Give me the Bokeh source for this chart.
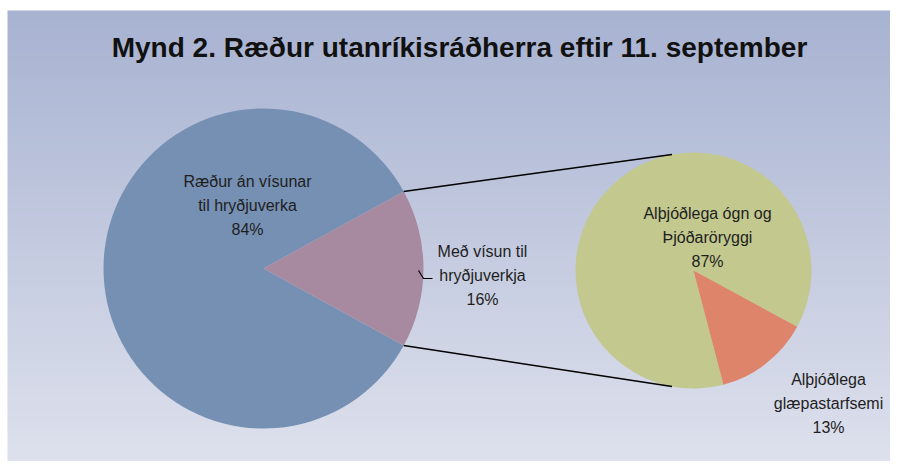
import numpy as np
from bokeh.plotting import figure
from bokeh.models import Range1d
from bokeh.core.properties import value
from bokeh.embed import file_html
from bokeh.resources import INLINE

# ---- data ----
title_text = "Mynd 2. Ræður utanríkisráðherra eftir 11. september"
main_labels = ["Ræður án vísunar\ntil hryðjuverka", "Með vísun til\nhryðjuverkja"]
main_values = [84, 16]
sub_labels = ["Alþjóðlega ógn og\nÞjóðaröryggi", "Alþjóðlega\nglæpastarfsemi"]
sub_values = [87, 13]
main_colors = ["#7690b4", "#a88aa0"]
sub_colors = ["#c2c88e", "#de846a"]

W, H = 890, 461
FONT = "Liberation Sans"

p = figure(width=W, height=H, x_range=Range1d(0, W), y_range=Range1d(0, H),
           output_backend="svg", toolbar_location=None, min_border=0,
           x_axis_type=None, y_axis_type=None, outline_line_color=None,
           background_fill_color="white", border_fill_color="white")
p.grid.visible = False

def sy(py):  # screen y -> data y
    return H - py

# background gradient
N = 256
top = np.array([168, 179, 210])
bot = np.array([222, 225, 237])
img = np.empty((N, 1), dtype=np.uint32)
view = img.view(dtype=np.uint8).reshape((N, 1, 4))
for i in range(N):
    t = i / (N - 1)  # 0 bottom -> 1 top
    c = bot + (top - bot) * t
    view[i, 0, :3] = c.astype(np.uint8)
    view[i, 0, 3] = 255
p.image_rgba(image=[img], x=7, y=0, dw=W - 7, dh=sy(10))

# title
p.text(x=[459], y=[sy(47)], text=[title_text], text_font=value(FONT),
       text_font_size="28px", text_font_style="bold", text_align="center",
       text_baseline="middle", text_color="#111111")

# main pie
mcx, mcy, mr = 263, sy(268), 160
tot = sum(main_values)
half2 = np.pi * main_values[1] / tot
m_start = [half2, -half2]
m_end = [2 * np.pi - half2, half2]
p.wedge(x=[mcx] * 2, y=[mcy] * 2, radius=mr, start_angle=m_start, end_angle=m_end,
        fill_color=main_colors, line_color=None)

# sub pie
scx, scy, sr = 693, sy(270), 118
stot = sum(sub_values)
o_end = np.deg2rad(-28.5)
o_start = o_end - 2 * np.pi * sub_values[1] / stot
s_start = [o_end, o_start]
s_end = [o_start + 2 * np.pi, o_end]
p.wedge(x=[scx] * 2, y=[scy] * 2, radius=sr, start_angle=s_start, end_angle=s_end,
        fill_color=sub_colors, line_color=None)

# connector lines
a_top = np.deg2rad(100.5)
p.line(x=[mcx + mr * np.cos(half2), scx + sr * np.cos(a_top)],
       y=[mcy + mr * np.sin(half2), scy + sr * np.sin(a_top)],
       line_color="black", line_width=1.6)
p.line(x=[mcx + mr * np.cos(half2), scx + sr * np.cos(a_top)],
       y=[mcy - mr * np.sin(half2), scy - sr * np.sin(a_top)],
       line_color="black", line_width=1.6)

# small leader
p.line(x=[418, 423, 432], y=[sy(270), sy(278), sy(278)], line_color="black", line_width=1.2)

# labels
lab_text = [f"{main_labels[0]}\n{main_values[0]}%", f"{main_labels[1]}\n{main_values[1]}%",
            f"{sub_labels[0]}\n{sub_values[0]}%", f"{sub_labels[1]}\n{sub_values[1]}%"]
lab_x = [247, 482, 707, 828]
lab_y = [sy(205), sy(275), sy(237), sy(403)]
p.text(x=lab_x, y=lab_y, text=lab_text, text_font=value(FONT), text_font_size="16px",
       text_align="center", text_baseline="middle", text_color="#1e1e1e",
       text_line_height=1.4)

open("out.html", "w").write(file_html(p, INLINE))
